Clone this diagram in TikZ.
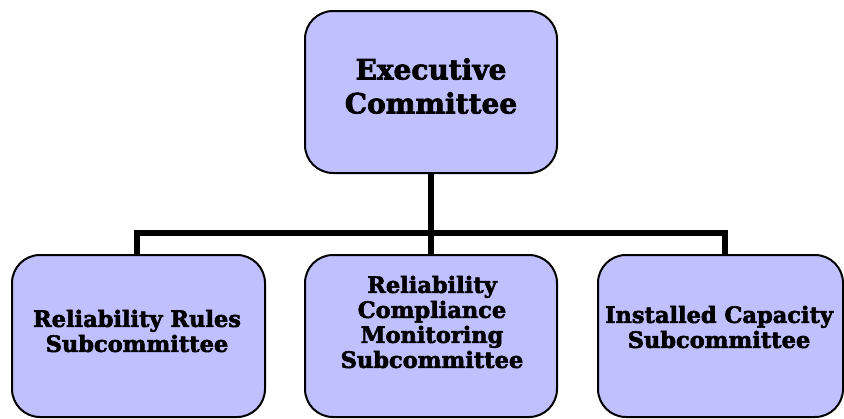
\documentclass[tikz,border=0pt]{standalone}
\usepackage{fontspec}
\setmainfont{DejaVu Serif}
\newfontfamily\heavyfont[FakeBold=2.5]{DejaVu Serif Bold}
\definecolor{boxfill}{RGB}{192,192,255}
\tikzset{
  orgbox/.style={draw=black, line width=2pt, fill=boxfill, rounded corners=28pt,
    minimum width=#1, minimum height=162pt, inner sep=0pt},
  orgbox/.default=252pt,
  toptext/.style={align=center, inner sep=0pt, font=\heavyfont\fontsize{28}{34}\selectfont},
  subtext/.style={align=center, inner sep=0pt, font=\heavyfont\fontsize{22.5}{25}\selectfont},
  conn/.style={line width=6pt, line join=miter, line cap=butt}
}
\begin{document}
\begin{tikzpicture}[x=1pt,y=-1pt]
\useasboundingbox (0,0) rectangle (844,418);
\node[orgbox] (exec) at (431,92) {};
\node[orgbox=253pt] (rr) at (138.5,336) {};
\node[orgbox] (rcm) at (431,336) {};
\node[orgbox=245pt] (ic) at (720.5,336) {};
\node[toptext] (execT) at (431,86) {Executive\\Committee};
\node[subtext] (rrT) at (137,331) {Reliability Rules\\Subcommittee};
\node[subtext] (rcmT) at (432,322) {Reliability\\Compliance\\Monitoring\\Subcommittee};
\node[subtext] (icT) at (719,327) {Installed Capacity\\Subcommittee};
\coordinate (jl) at (137,233);
\coordinate (jr) at (725,233);
\draw[conn] (exec.south) -- (rcm.north);
\draw[conn] (jl |- rr.north) -- (jl) -- (jr) -- (jr |- ic.north);
\end{tikzpicture}
\end{document}
